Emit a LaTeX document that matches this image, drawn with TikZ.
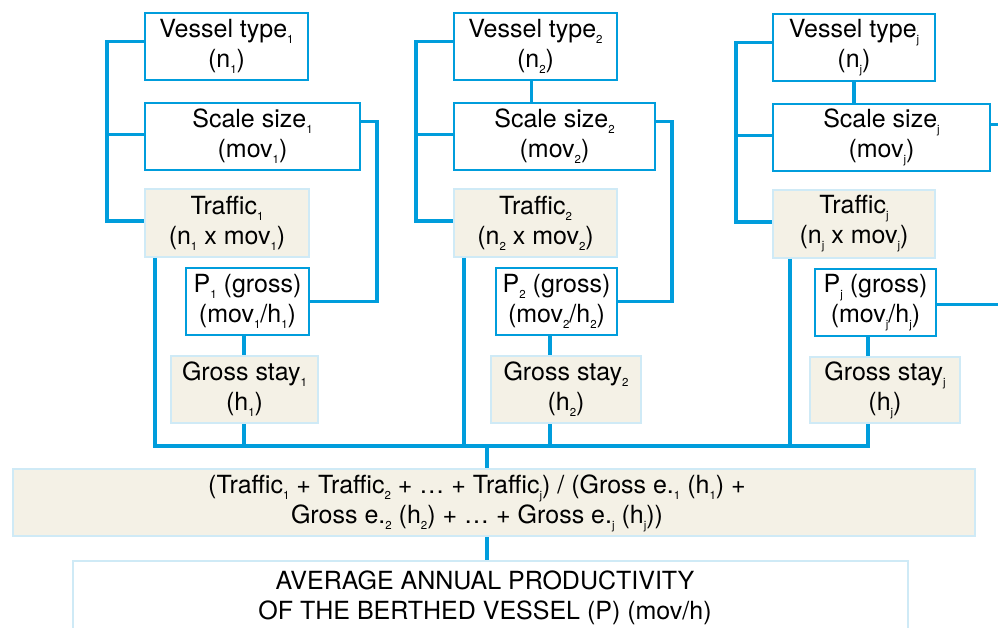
\documentclass[tikz,border=0pt]{standalone}
\usepackage{fontspec}
\setmainfont{TeX Gyre Heros}
\usepackage{xcolor}
\usepackage{tikz}
\usetikzlibrary{calc}

\definecolor{linkblue}{RGB}{0,157,220}
\definecolor{paleblue}{RGB}{207,234,246}
\definecolor{beige}{RGB}{244,241,230}
\newcommand{\sbs}[1]{\raisebox{-6pt}{\fontsize{11.5}{11.5}\selectfont #1}}

\tikzset{
  every node/.style={font=\fontsize{25}{30}\selectfont,align=center,inner sep=0pt},
  inbox/.style={draw=linkblue,line width=2pt,fill=white},
  calcbox/.style={draw=paleblue,line width=2pt,fill=beige},
  outbox/.style={draw=paleblue,line width=2pt,fill=white},
  link/.style={draw=linkblue,line width=3.3pt},
}

\begin{document}
\begin{tikzpicture}[x=1pt,y=-1pt]
\useasboundingbox (0,0) rectangle (998,628);
% column 1
\node[inbox,minimum width=163pt,minimum height=67pt] (vt1) at (226.5,46.5) {Vessel type\sbs{1}\\(n\sbs{1})};
\node[inbox,minimum width=215pt,minimum height=67pt] (sc1) at (252.5,136.5) {Scale size\sbs{1}\\(mov\sbs{1})};
\node[calcbox,minimum width=164pt,minimum height=68pt] (tr1) at (227,223) {Traffic\sbs{1}\\(n\sbs{1} x mov\sbs{1})};
\node[inbox,minimum width=123pt,minimum height=67pt] (p1) at (247.5,301.5) {P\sbs{1} (gross)\\(mov\sbs{1}/h\sbs{1})};
\node[calcbox,minimum width=147pt,minimum height=67pt] (gs1) at (244.5,389.5) {Gross stay\sbs{1}\\(h\sbs{1})};
% column 2
\node[inbox,minimum width=163pt,minimum height=67pt] (vt2) at (535.5,46.5) {Vessel type\sbs{2}\\(n\sbs{2})};
\node[inbox,minimum width=201pt,minimum height=67pt] (sc2) at (554.5,136.5) {Scale size\sbs{2}\\(mov\sbs{2})};
\node[calcbox,minimum width=163pt,minimum height=68pt] (tr2) at (535.5,223) {Traffic\sbs{2}\\(n\sbs{2} x mov\sbs{2})};
\node[inbox,minimum width=121pt,minimum height=67pt] (p2) at (556.5,301.5) {P\sbs{2} (gross)\\(mov\sbs{2}/h\sbs{2})};
\node[calcbox,minimum width=150pt,minimum height=67pt] (gs2) at (566,389.5) {Gross stay\sbs{2}\\(h\sbs{2})};
% column j
\node[inbox,minimum width=162pt,minimum height=67pt] (vtj) at (854,47.5) {Vessel type\sbs{j}\\(n\sbs{j})};
\node[inbox,minimum width=217pt,minimum height=67pt] (scj) at (881.5,137.5) {Scale size\sbs{j}\\(mov\sbs{j})};
\node[calcbox,minimum width=162pt,minimum height=68pt] (trj) at (854,224) {Traffic\sbs{j}\\(n\sbs{j} x mov\sbs{j})};
\node[inbox,minimum width=121pt,minimum height=67pt] (pj) at (875.5,302.5) {P\sbs{j} (gross)\\(mov\sbs{j}/h\sbs{j})};
\node[calcbox,minimum width=150pt,minimum height=66pt] (gsj) at (885,390) {Gross stay\sbs{j}\\(h\sbs{j})};
% totals
\node[calcbox,minimum width=962pt,minimum height=67pt] (formula) at (494,502.5) {};
\node (formulatext) at (477,503.5) {(Traffic\sbs{1} + Traffic\sbs{2} + … + Traffic\sbs{j}) / (Gross e.\sbs{1} (h\sbs{1}) +\\Gross e.\sbs{2} (h\sbs{2}) + … + Gross e.\sbs{j} (h\sbs{j}))};
\node[outbox,minimum width=835pt,minimum height=139pt] (result) at (490.5,630.5) {};
\node (resulttext) at (485,598) {AVERAGE ANNUAL PRODUCTIVITY\\OF THE BERTHED VESSEL (P) (mov/h)};

\coordinate (bus) at (487,446);
\coordinate (s1) at (244,0);
\coordinate (s2) at (550,0);
\coordinate (sj) at (868,0);

% brackets on the left
\draw[link] ([yshift=5pt]vt1.west) -- ++(-37,0) |- ([yshift=2pt]tr1.west);
\draw[link] ([yshift=2pt]sc1.west) -- ++(-37,0);
\draw[link] ([yshift=5pt]vt2.west) -- ++(-37,0) |- ([yshift=2pt]tr2.west);
\draw[link] ([yshift=2pt]sc2.west) -- ++(-37,0);
\draw[link] ([yshift=5pt]vtj.west) -- ++(-36,0) |- ([yshift=2pt]trj.west);
\draw[link] ([yshift=2pt]scj.west) -- ++(-36,0);
\draw[link] ([xshift=-4pt]vt2.south) -- ([xshift=-4pt]vt2.south |- sc2.north);
\draw[link] (vtj.south) -- (vtj.south |- scj.north);
% scale size to productivity
\draw[link] ([yshift=15pt]sc1.east) -- ++(16,0) |- (p1.east);
\draw[link] ([yshift=15pt]sc2.east) -- ++(16,0) |- (p2.east);
\draw[link] ([yshift=13pt]scj.east) -- ++(16,0) |- ([yshift=-2pt]pj.east);
% productivity to gross stay
\draw[link] (s1 |- p1.south) -- (s1 |- gs1.north);
\draw[link] (s2 |- p2.south) -- (s2 |- gs2.north);
\draw[link] (sj |- pj.south) -- (sj |- gsj.north);
% collecting bus
\draw[link] ([xshift=11pt]tr1.south west) |- (sj |- bus) -- (sj |- gsj.south);
\draw[link] ([xshift=11pt]tr2.south west) -- ([xshift=11pt]tr2.south west |- bus);
\draw[link] ([xshift=18pt]trj.south west) -- ([xshift=18pt]trj.south west |- bus);
\draw[link] (s1 |- gs1.south) -- (s1 |- bus);
\draw[link] (s2 |- gs2.south) -- (s2 |- bus);
\draw[link] (bus) -- (bus |- formula.north);
\draw[link] (bus |- formula.south) -- (bus |- result.north);
\end{tikzpicture}
\end{document}
